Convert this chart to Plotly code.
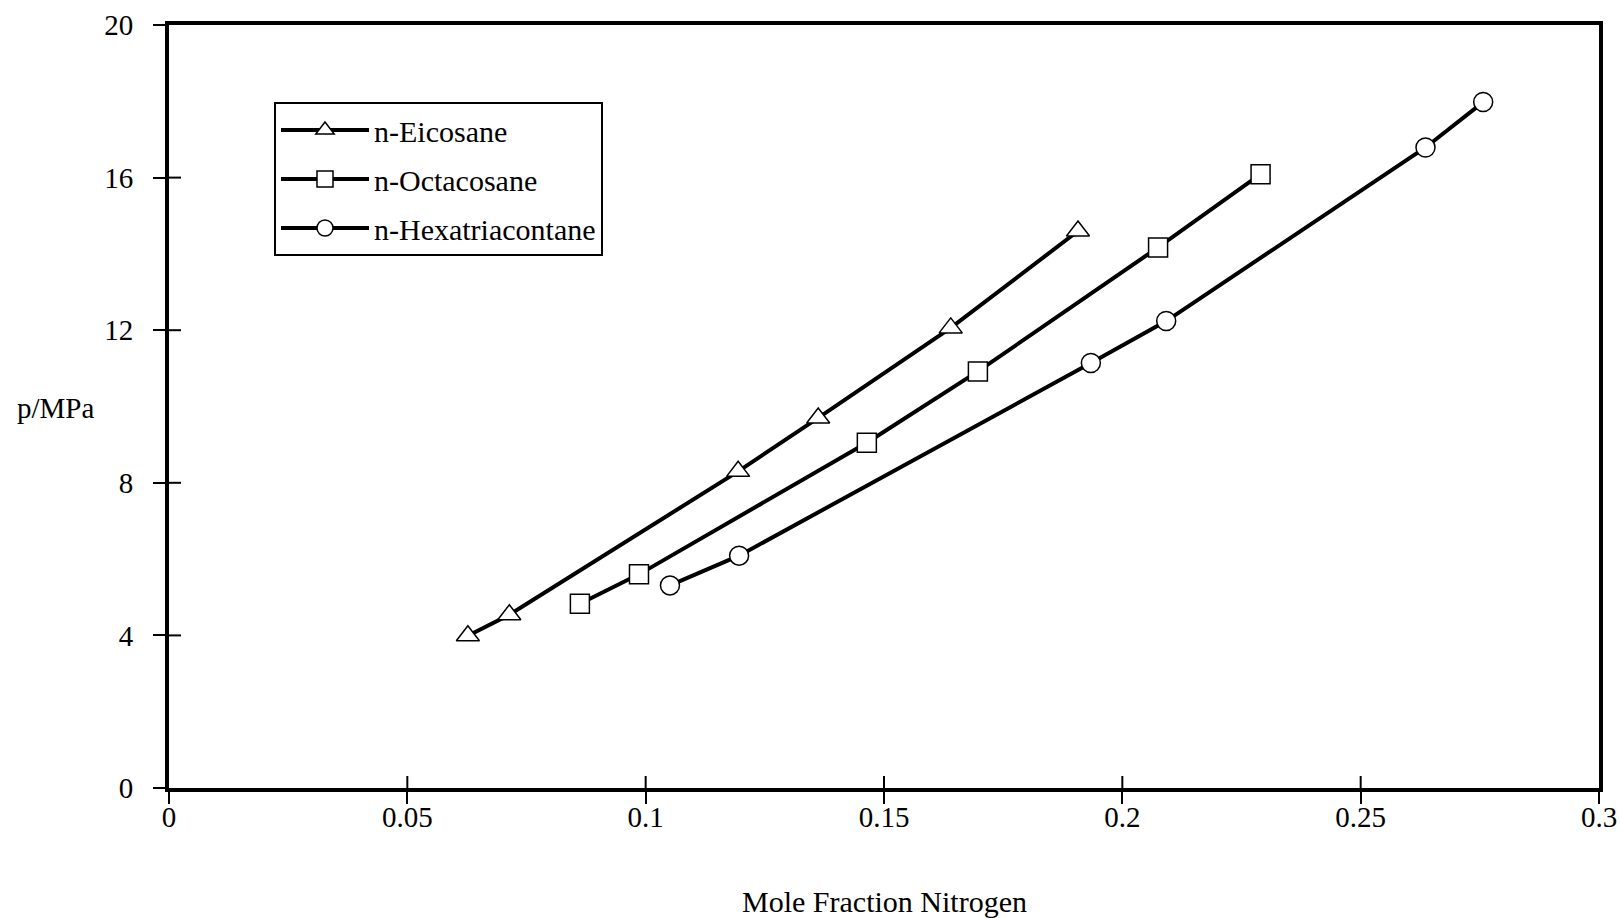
import plotly.graph_objects as go

# Data
eico_x = [0.0627, 0.0714, 0.1194, 0.1362, 0.1640, 0.1907]
eico_y = [3.99, 4.54, 8.30, 9.70, 12.06, 14.60]

octa_x = [0.0862, 0.0986, 0.1464, 0.1697, 0.2075, 0.2290]
octa_y = [4.83, 5.60, 9.05, 10.92, 14.17, 16.09]

hexa_x = [0.1051, 0.1196, 0.1934, 0.2092, 0.2636, 0.2757]
hexa_y = [5.31, 6.09, 11.14, 12.24, 16.79, 17.98]

x_ticks = [0, 0.05, 0.1, 0.15, 0.2, 0.25, 0.3]
x_tick_text = ["0", "0.05", "0.1", "0.15", "0.2", "0.25", "0.3"]
y_ticks = [0, 4, 8, 12, 16, 20]
y_tick_text = ["0", "4", "8", "12", "16", "20"]

FONT = "Liberation Serif"
FS = 29
FS_BIG = 30

L, R, T, B = 169, 21, 25, 130
W, H = 1620, 918
X_RANGE = [0, 0.3]
Y_RANGE = [0, 20]
TICKLEN = 12

fig = go.Figure()

series = [
    ("n-Eicosane", eico_x, eico_y, "triangle-up", 20),
    ("n-Octacosane", octa_x, octa_y, "square", 19),
    ("n-Hexatriacontane", hexa_x, hexa_y, "circle", 19),
]
for i, (name, xs, ys, sym, sz) in enumerate(series):
    fig.add_trace(go.Scatter(
        x=xs, y=ys, name=name, mode="lines+markers",
        line=dict(color="black", width=4),
        marker=dict(symbol=sym, size=sz, color="white",
                    line=dict(color="black", width=1.5)),
        legendgroup=f"g{i}",
    ))

axis_common = dict(showgrid=False, zeroline=False, color="black",
                   automargin=False)

fig.update_layout(
    width=W, height=H,
    margin=dict(l=L, r=R, t=T, b=B),
    paper_bgcolor="white", plot_bgcolor="white",
    font=dict(family=FONT, size=FS, color="black"),
    xaxis=dict(
        range=X_RANGE, tickvals=x_ticks, ticktext=x_tick_text,
        ticks="outside", ticklen=TICKLEN, tickwidth=2, tickcolor="black",
        showline=True, linewidth=4, linecolor="black", mirror=True,
        tickfont=dict(family=FONT, size=FS),
        ticklabelstandoff=-12,
        **axis_common,
    ),
    yaxis=dict(
        range=Y_RANGE, tickvals=y_ticks, ticktext=y_tick_text,
        ticks="outside", ticklen=TICKLEN, tickwidth=2, tickcolor="black",
        showline=True, linewidth=4, linecolor="black", mirror=True,
        tickfont=dict(family=FONT, size=FS),
        ticklabelstandoff=14,
        **axis_common,
    ),
    legend=dict(
        x=(274 - L) / (W - L - R), y=(H - B - 102) / (H - T - B),
        xanchor="left", yanchor="top",
        bordercolor="black", borderwidth=2, bgcolor="white",
        font=dict(family=FONT, size=FS_BIG),
        traceorder="grouped", tracegroupgap=7, itemwidth=88,
    ),
    showlegend=True,
)

# inner halves of the crossing tick marks, length converted from px to data units
plot_w = W - L - R
plot_h = H - T - B
dy = TICKLEN * (Y_RANGE[1] - Y_RANGE[0]) / plot_h
dx = TICKLEN * (X_RANGE[1] - X_RANGE[0]) / plot_w
for xv in x_ticks[1:-1]:
    fig.add_shape(type="line", xref="x", yref="y", x0=xv, x1=xv,
                  y0=Y_RANGE[0], y1=Y_RANGE[0] + dy,
                  line=dict(color="black", width=2), layer="above")
for yv in y_ticks[1:-1]:
    fig.add_shape(type="line", xref="x", yref="y", y0=yv, y1=yv,
                  x0=X_RANGE[0], x1=X_RANGE[0] + dx,
                  line=dict(color="black", width=2), layer="above")

fig.add_annotation(
    text="Mole Fraction Nitrogen",
    x=0.5, y=(H - B - 901) / plot_h, xref="paper", yref="paper",
    xanchor="center", yanchor="middle", showarrow=False,
    font=dict(family=FONT, size=FS_BIG),
)
fig.add_annotation(
    text="p/MPa",
    x=(55 - L) / plot_w, y=(H - B - 408) / plot_h,
    xref="paper", yref="paper", xanchor="center", yanchor="middle",
    showarrow=False, font=dict(family=FONT, size=FS),
)

fig.write_html("out.html")
